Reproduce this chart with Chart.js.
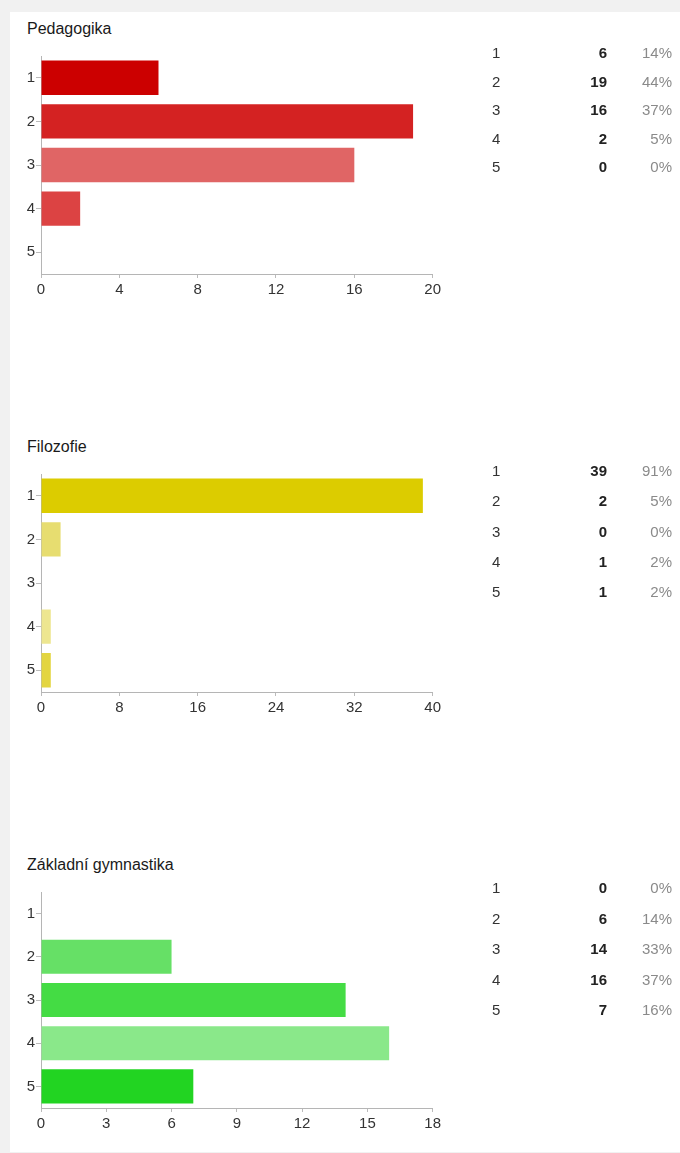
<!DOCTYPE html>
<html>
<head>
<meta charset="utf-8">
<script src="https://cdn.jsdelivr.net/npm/chart.js@4.4.1/dist/chart.umd.min.js"></script>
<style>
  body { margin: 0; background: #f1f1f1; width: 680px; height: 1153px; position: relative; overflow: hidden; }
  #panel { position: absolute; left: 10px; top: 12px; width: 670px; height: 1140px; background: #fff; }
  .title { position: absolute; left: 27px; font: 16px "Liberation Sans", Arial, sans-serif; color: #1a1a1a; }
  canvas { position: absolute; left: 10px; }
  .row { position: absolute; left: 0; width: 680px; height: 20px; font: 15px "Liberation Sans", Arial, sans-serif; }
  .row span { position: absolute; top: 0; line-height: 20px; }
  .lab { left: 492px; color: #333; }
  .cnt { right: 73px; font-weight: bold; color: #222; }
  .pct { right: 8px; color: #8a8a8a; }
</style>
</head>
<body>
<div id="panel"></div>
<div class="title" style="top:20px">Pedagogika</div>
<canvas id="c1" width="434" height="258" style="top:46px"></canvas>
<div class="title" style="top:438px">Filozofie</div>
<canvas id="c2" width="434" height="258" style="top:464px"></canvas>
<div class="title" style="top:856px">Základní gymnastika</div>
<canvas id="c3" width="434" height="256" style="top:882px"></canvas>
<div id="tables"></div>
<script>
const categories = ["1", "2", "3", "4", "5"];

const pedagogika = [6, 19, 16, 2, 0];
const pedagogikaPct = ["14%", "44%", "37%", "5%", "0%"];
const pedagogikaColors = ["#cc0000", "#d42222", "#e06565", "#dc4343", "#cc0000"];

const filozofie = [39, 2, 0, 1, 1];
const filozofiePct = ["91%", "5%", "0%", "2%", "2%"];
const filozofieColors = ["#dccc00", "#e7dd70", "#dccc00", "#ede690", "#e3d540"];

const gymnastika = [0, 6, 14, 16, 7];
const gymnastikaPct = ["0%", "14%", "33%", "37%", "16%"];
const gymnastikaColors = ["#22d422", "#66e066", "#44dc44", "#8ae88a", "#22d422"];

const tickFont = { family: "'Liberation Sans', Arial, sans-serif", size: 15 };

function makeChart(id, values, colors, max, step) {
  return new Chart(document.getElementById(id), {
    type: "bar",
    data: {
      labels: categories,
      datasets: [{
        data: values,
        backgroundColor: colors,
        borderWidth: 0,
        categoryPercentage: 0.79,
        barPercentage: 1,
      }],
    },
    options: {
      indexAxis: "y",
      responsive: false,
      animation: false,
      layout: { padding: { top: 6, right: 10, left: 0, bottom: 0 } },
      plugins: { legend: { display: false }, tooltip: { enabled: false } },
      scales: {
        x: {
          min: 0,
          max: max,
          ticks: { stepSize: step, color: "#333", font: tickFont, padding: 3 },
          grid: { drawOnChartArea: false, tickLength: 4, color: "#bbb" },
          border: { color: "#b5b5b5" },
          afterFit: (s) => { s.height = 30; },
        },
        y: {
          ticks: { color: "#333", font: tickFont, padding: 1 },
          grid: { drawOnChartArea: false, offset: false, tickLength: 5, color: "#bbb" },
          border: { color: "#b5b5b5" },
          afterFit: (s) => { s.width = 31; },
        },
      },
    },
  });
}

makeChart("c1", pedagogika, pedagogikaColors, 20, 4);
makeChart("c2", filozofie, filozofieColors, 40, 8);
makeChart("c3", gymnastika, gymnastikaColors, 18, 3);

function makeTable(values, pcts, firstRow, spacing) {
  const box = document.getElementById("tables");
  categories.forEach((cat, i) => {
    const row = document.createElement("div");
    row.className = "row";
    row.style.top = (firstRow + i * spacing - 10) + "px";
    row.innerHTML = '<span class="lab">' + cat + '</span><span class="cnt">' + values[i] +
      '</span><span class="pct">' + pcts[i] + '</span>';
    box.appendChild(row);
  });
}

makeTable(pedagogika, pedagogikaPct, 53, 28.5);
makeTable(filozofie, filozofiePct, 471, 30.3);
makeTable(gymnastika, gymnastikaPct, 888, 30.5);
</script>
</body>
</html>
